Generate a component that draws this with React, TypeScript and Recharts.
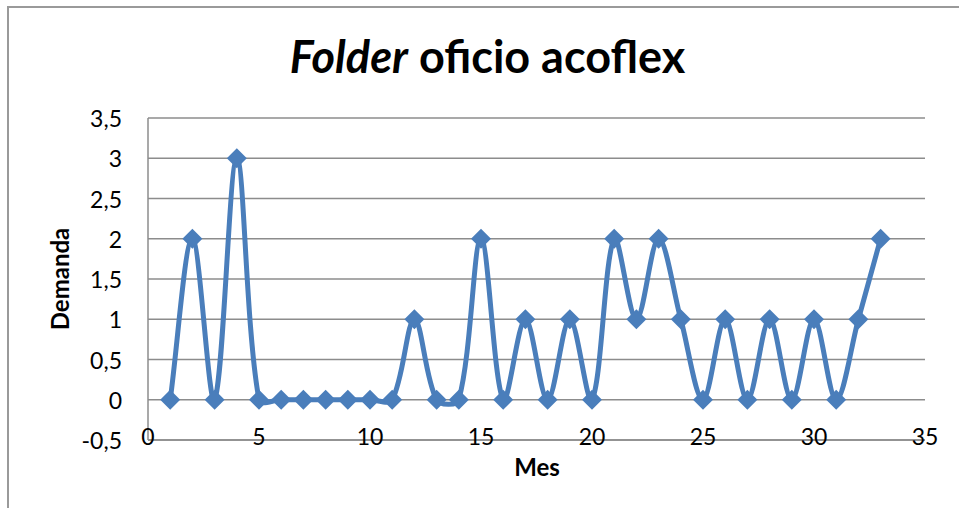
import React from "react"
import { LineChart, Line, XAxis, YAxis, CartesianGrid } from "recharts"

const months = [1, 2, 3, 4, 5, 6, 7, 8, 9, 10, 11, 12, 13, 14, 15, 16, 17, 18, 19, 20, 21, 22, 23, 24, 25, 26, 27, 28, 29, 30, 31, 32, 33]
const demanda = [0, 2, 0, 3, 0, 0, 0, 0, 0, 0, 0, 1, 0, 0, 2, 0, 1, 0, 1, 0, 2, 1, 2, 1, 0, 1, 0, 1, 0, 1, 0, 1, 2]
const xTicks = [0, 5, 10, 15, 20, 25, 30, 35]
const yTicks = [-0.5, 0, 0.5, 1, 1.5, 2, 2.5, 3, 3.5]

const data = months.map((mes, i) => ({ mes, demanda: demanda[i] }))

const FONT = "Lato, 'Open Sans', sans-serif"
const BLUE = "#4a7ebb"
const GRID = "#8c8c8c"

// Excel-like smoothed line: bezier with tangents scaled by chord lengths
function excelSmooth(context: any) {
  let pts: number[][] = []
  return {
    areaStart() {},
    areaEnd() {},
    lineStart() {
      pts = []
    },
    point(x: number, y: number) {
      pts.push([+x, +y])
    },
    lineEnd() {
      if (!pts.length) return
      context.moveTo(pts[0][0], pts[0][1])
      for (let i = 0; i < pts.length - 1; i++) {
        const p0 = pts[i - 1] || pts[i]
        const p1 = pts[i]
        const p2 = pts[i + 1]
        const p3 = pts[i + 2] || pts[i + 1]
        const d01 = Math.hypot(p1[0] - p0[0], p1[1] - p0[1])
        const d12 = Math.hypot(p2[0] - p1[0], p2[1] - p1[1])
        const d23 = Math.hypot(p3[0] - p2[0], p3[1] - p2[1])
        const f1 = d01 + d12 > 0 ? d12 / (d01 + d12) / 3 : 0
        const f2 = d12 + d23 > 0 ? d12 / (d12 + d23) / 3 : 0
        context.bezierCurveTo(
          p1[0] + (p2[0] - p0[0]) * f1,
          p1[1] + (p2[1] - p0[1]) * f1,
          p2[0] - (p3[0] - p1[0]) * f2,
          p2[1] - (p3[1] - p1[1]) * f2,
          p2[0],
          p2[1]
        )
      }
    },
  }
}

const Diamond = (props: any) => {
  const { cx, cy, index } = props
  if (cx == null || cy == null) return null
  const r = 10
  return (
    <path
      key={`d-${index}`}
      d={`M${cx},${cy - r} L${cx + r},${cy} L${cx},${cy + r} L${cx - r},${cy} Z`}
      fill={BLUE}
    />
  )
}

const XTick = (props: any) => {
  const { x, payload } = props
  return (
    <text x={x} y={436} textAnchor="middle" dominantBaseline="central" fontSize={23} fontFamily={FONT} fill="#000">
      {payload.value}
    </text>
  )
}

const YTick = (props: any) => {
  const { y, payload } = props
  return (
    <text x={122} y={y} textAnchor="end" dominantBaseline="central" fontSize={23} fontFamily={FONT} fill="#000">
      {String(payload.value).replace(".", ",")}
    </text>
  )
}

export default function App() {
  return (
    <div style={{ position: "absolute", left: 0, top: 0, width: 959, height: 508, background: "#fff", overflow: "hidden" }}>
      <div
        style={{
          position: "absolute",
          left: 7,
          top: 6,
          width: 980,
          height: 520,
          borderLeft: "2px solid #9a9a9a",
          borderTop: "2px solid #9a9a9a",
        }}
      />
      <div
        style={{
          position: "absolute",
          left: 0,
          top: 28,
          width: 975,
          textAlign: "center",
          fontFamily: FONT,
          fontWeight: 700,
          fontSize: 45,
          color: "#000",
          lineHeight: "56px",
        }}
      >
        <i>Folder</i> oficio acoflex
      </div>
      <div
        style={{
          position: "absolute",
          left: 59,
          top: 279,
          transform: "translate(-50%, -50%) rotate(-90deg)",
          fontFamily: FONT,
          fontWeight: 700,
          fontSize: 24,
          whiteSpace: "nowrap",
        }}
      >
        Demanda
      </div>
      <div
        style={{
          position: "absolute",
          left: 537,
          top: 466,
          transform: "translate(-50%, -50%)",
          fontFamily: FONT,
          fontWeight: 700,
          fontSize: 24,
        }}
      >
        Mes
      </div>
      <div style={{ position: "absolute", left: 0, top: 0 }}>
        <LineChart width={959} height={508} data={data} margin={{ top: 118, right: 34, bottom: 0, left: 0 }}>
          <CartesianGrid horizontal vertical={false} stroke={GRID} strokeWidth={1.5} />
          <XAxis
            dataKey="mes"
            type="number"
            domain={[0, 35]}
            ticks={xTicks}
            height={68}
            axisLine={{ stroke: GRID, strokeWidth: 1.5 }}
            tickLine={false}
            tick={<XTick />}
            interval={0}
          />
          <YAxis
            type="number"
            domain={[-0.5, 3.5]}
            ticks={yTicks}
            width={148}
            axisLine={{ stroke: GRID, strokeWidth: 1.5 }}
            tickLine={false}
            tick={<YTick />}
            interval={0}
          />
          <Line
            dataKey="demanda"
            type={excelSmooth as any}
            stroke={BLUE}
            strokeWidth={5}
            dot={Diamond}
            activeDot={false}
            isAnimationActive={false}
          />
        </LineChart>
      </div>
    </div>
  )
}
